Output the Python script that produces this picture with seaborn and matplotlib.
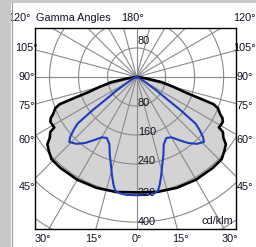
import numpy as np
import pandas as pd
import matplotlib
matplotlib.use("Agg")
import matplotlib.pyplot as plt
import seaborn as sns

# ---- data (gamma angle in degrees, intensity in cd/klm) ----
black_gamma = [0, 10, 20, 30, 40, 46, 50, 53, 55, 57.5, 58.5, 60, 62.5, 64.5, 66, 69,
               70.5, 71.5, 72.5, 75, 78.5, 81, 85, 90]
black_cd = [318, 322, 325, 327, 327, 326, 316, 308, 292, 282, 266, 267, 268, 262, 252, 240,
            225, 175, 140, 105, 70, 28, 8, 0]
blue_gamma = [0, 5, 8, 10.5, 12, 14, 16.5, 19, 22, 26, 30, 34, 38, 42, 46, 48, 50, 51.7,
              53, 54, 56, 58, 62, 70, 80, 90]
blue_cd = [326, 326, 324, 320, 305, 280, 250, 227, 200, 187, 192, 210, 231, 248, 258, 246,
           226, 207, 150, 100, 65, 35, 18, 8, 3, 0]

ring_values = [80, 160, 240, 320, 400, 480]
ring_labels = ["80", "160", "240", "320", "400"]
spoke_angles = list(range(0, 360, 15))
side_labels = [45, 60, 75, 90, 105]
bottom_labels = [30, 15, 0, 15, 30]
bottom_angles = [-30, -15, 0, 15, 30]

sns.set_style("white")
plt.rcParams["font.family"] = ["Liberation Sans", "DejaVu Sans"]

W, H = 256, 247
fig = plt.figure(figsize=(W / 100, H / 100), dpi=100)
fig.patch.set_facecolor("white")
# grey window frame
fig.add_artist(plt.Rectangle((0, 0), 11 / W, 1, transform=fig.transFigure,
                             facecolor="#c8c8c8", edgecolor="none"))
fig.add_artist(plt.Rectangle((0, 1 - 3 / H), 1, 3 / H, transform=fig.transFigure,
                             facecolor="#c8c8c8", edgecolor="none"))
fig.add_artist(plt.Line2D([11.5 / W, 11.5 / W], [0, 1 - 3 / H], transform=fig.transFigure,
                          color="#9a9a9a", lw=0.8))

ax = fig.add_axes([35 / W, 1 - 229 / H, 201 / W, 201 / H])


def to_xy(gam, cd):
    g = np.radians(np.asarray(gam, float))
    r = np.asarray(cd, float)
    # full curve: left side (90 -> 0) then right side (0 -> 90)
    xs = np.concatenate([-(r * np.sin(g))[::-1], (r * np.sin(g))[1:]])
    ys = np.concatenate([-(r * np.cos(g))[::-1], -(r * np.cos(g))[1:]])
    return pd.DataFrame({"x": xs, "y": ys})


bdf = to_xy(black_gamma, black_cd)
udf = to_xy(blue_gamma, blue_cd)

# fill of main curve
ax.fill(bdf["x"], bdf["y"], color="#d3d3d3", zorder=1, lw=0)

# polar grid
grid_c = "#8a8a8a"
t = np.linspace(0, 2 * np.pi, 400)
for rv in ring_values:
    ax.plot(rv * np.cos(t), rv * np.sin(t), color=grid_c, lw=0.8, zorder=2)
for a in spoke_angles:
    ar = np.radians(a)
    ax.plot([0, 700 * np.sin(ar)], [0, -700 * np.cos(ar)], color=grid_c, lw=0.8, zorder=2)

sns.lineplot(data=bdf, x="x", y="y", sort=False, estimator=None, color="black",
             lw=1.9, ax=ax, zorder=4)
sns.lineplot(data=udf, x="x", y="y", sort=False, estimator=None, color="#1f3cc0",
             lw=1.5, ax=ax, zorder=5)

ax.set_xlim(-280, 274)
ax.set_ylim(-419, 135)
ax.set_xticks([])
ax.set_yticks([])
ax.set_xlabel("")
ax.set_ylabel("")
for s in ax.spines.values():
    s.set_visible(True)
    s.set_color("black")
    s.set_linewidth(1.0)

fs = 7.8
tc = "#111122"
# ring labels
ax.text(3, 99, "80", fontsize=fs, color=tc, ha="left", va="center", zorder=6)
for rv, lab in zip(ring_values, ring_labels):
    ax.text(3, -rv + (8 if rv < 320 else 0), lab, fontsize=fs, color=tc, ha="left",
            va="center", zorder=6)
ax.text(265, -397, "cd/klm", fontsize=fs, color=tc, ha="right", va="center", zorder=6)

# angle labels outside the box
xo = 303
for a in side_labels:
    ar = np.radians(a)
    yy = -xo * np.cos(ar) / np.sin(ar)
    ax.text(-xo, yy, f"{a}°", fontsize=fs, color=tc, ha="center", va="center", clip_on=False)
    ax.text(xo - 5, yy, f"{a}°", fontsize=fs, color=tc, ha="center", va="center", clip_on=False)
ytop = 163
ax.text(-322, ytop, "120°", fontsize=fs, color=tc, ha="center", va="center", clip_on=False)
ax.text(296, ytop, "120°", fontsize=fs, color=tc, ha="center", va="center", clip_on=False)
ax.text(-276, ytop, "Gamma Angles", fontsize=fs, color=tc, ha="left", va="center", clip_on=False)
ax.text(-12, ytop, "180°", fontsize=fs, color=tc, ha="center", va="center", clip_on=False)
yb = -447
for a, lab in zip(bottom_angles, bottom_labels):
    ax.text(-yb * np.tan(np.radians(a)), yb, f"{lab}°", fontsize=fs, color=tc,
            ha="center", va="center", clip_on=False)

fig.savefig("out.png", dpi=100)
